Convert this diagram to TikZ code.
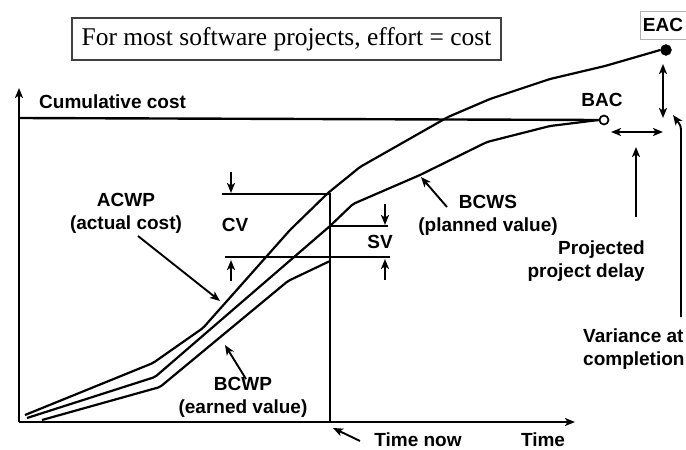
\documentclass[tikz,border=0pt]{standalone}
\usepackage{fontspec}
\setmainfont{Liberation Sans}
\newfontfamily\titlefont{Liberation Serif}
\usetikzlibrary{arrows.meta}

\begin{document}
\begin{tikzpicture}[x=1pt,y=-1pt,
  lbl/.style={font=\fontsize{19}{23}\selectfont\bfseries, inner sep=0pt},
  curve/.style={line width=2.2pt, line join=round, rounded corners=2pt},
  head/.tip={Stealth[length=10pt,width=8pt,inset=2.5pt]},
  tip/.style={-head, line width=1.9pt},
  dtip/.style={head-head, line width=1.9pt},
]
\useasboundingbox (0,0) rectangle (686,450);

% heading box
\node[draw=black!75, line width=1.3pt, minimum width=429pt, minimum height=42pt,
      inner sep=0pt, font=\titlefont\fontsize{25.5}{28}\selectfont] (title) at (286.5,39)
      {For most software projects, effort = cost};

% axes
\coordinate (O) at (19,422);
\coordinate (ytop) at (19,88);
\coordinate (xend) at (575,422);
\draw[tip, line width=2.2pt] (O) -- (ytop);
\draw[tip, line width=2.2pt] (O) -- (xend);
\node[lbl, anchor=west] (cum) at (39,102) {Cumulative cost};
\node[lbl] (timel) at (543,440) {Time};

% end points
\node[circle, fill=black, draw=black, inner sep=0pt, minimum size=11pt] (eacdot) at (666,50) {};
\node[circle, fill=white, draw=black, line width=1.7pt, inner sep=0pt, minimum size=9pt] (bacdot) at (604,120) {};
\node[lbl] (bacl) at (602,100) {BAC};
\node[lbl, draw=black!30, line width=0.8pt, minimum width=46pt, minimum height=28pt] (eacl) at (663,25) {EAC};

% budget line
\draw[line width=2.4pt] (19,118) -- (bacdot.west);

% time now
\coordinate (nowb) at (330,422);
\coordinate (nowt) at (330,193);
\draw[line width=2.2pt] (nowb) -- (nowt);

% ACWP
\draw[curve] (25,415) -- (153,363) -- (203,328) -- (290,230) -- (328,193) -- (360,167)
  -- (448,117) -- (490,99) -- (550,79) -- (605,66) -- (eacdot.west);
% BCWS
\draw[curve] (27,418) -- (155,377) -- (330,226) -- (353,204) -- (420,175) -- (487,142)
  -- (550,126) -- (bacdot.west);
% BCWP
\draw[curve] (42,420) -- (160,387) -- (288,281) -- (330,261);

% variance markers
\draw[line width=2.2pt] (222,194) -- (330,194);
\draw[line width=2.2pt] (225,257) -- (390,257);
\draw[line width=2.2pt] (330,226) -- (388,226);
\coordinate (cva) at (231,172);  \coordinate (cvat) at (231,193);
\coordinate (cvb) at (231,281);  \coordinate (cvbt) at (231,260);
\coordinate (sva) at (385,204);  \coordinate (svat) at (385,225);
\coordinate (svb) at (385,280);  \coordinate (svbt) at (385,259);
\draw[tip] (cva) -- (cvat);
\draw[tip] (cvb) -- (cvbt);
\draw[tip] (sva) -- (svat);
\draw[tip] (svb) -- (svbt);
\node[lbl] (cvl) at (235,225) {CV};
\node[lbl] (svl) at (380,242) {SV};

% curve labels
\node[lbl, align=center] (acwpl) at (126,213) {ACWP\\(actual cost)};
\node[lbl, align=center] (bcwpl) at (243,397) {BCWP\\(earned value)};
\node[lbl, align=center] (bcwsl) at (488,215) {BCWS\\(planned value)};
\coordinate (acwpa) at (138,236); \coordinate (acwpt) at (220,301);
\coordinate (bcwpa) at (246,379); \coordinate (bcwpt) at (225,345);
\coordinate (bcwsa) at (447,207); \coordinate (bcwst) at (421,177);
\draw[tip] (acwpa) -- (acwpt);
\draw[tip] (bcwpa) -- (bcwpt);
\draw[tip] (bcwsa) -- (bcwst);

% time now label
\node[lbl] (nowl) at (418,440) {Time now};
\coordinate (nowa) at (360,441); \coordinate (nowat) at (333,428);
\draw[tip] (nowa) -- (nowat);

% projections
\coordinate (eacv) at (663,64);  \coordinate (bacv) at (663,118);
\coordinate (delw) at (611,132); \coordinate (dele) at (663,132);
\draw[dtip] (eacv) -- (bacv);
\draw[dtip] (delw) -- (dele);
\node[lbl, align=right, anchor=east] (delayl) at (645,261) {Projected\\project delay};
\coordinate (dela) at (636,217); \coordinate (delt) at (636,147);
\draw[tip] (dela) -- (delt);
\node[lbl, align=left, anchor=west] (vacl) at (583,349) {Variance at\\completion};
\coordinate (vaca) at (681,317); \coordinate (vact) at (673,115);
\draw[tip] (vaca) -- (681,134) .. controls (681,126) .. (vact);
\end{tikzpicture}
\end{document}
